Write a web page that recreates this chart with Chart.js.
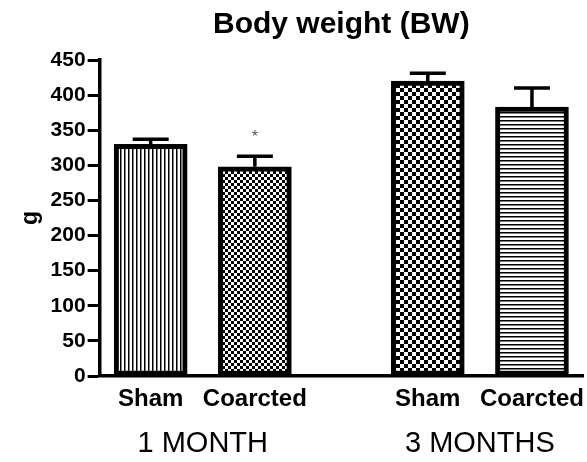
<!DOCTYPE html>
<html>
<head>
<meta charset="utf-8">
<title>Body weight (BW)</title>
<script src="https://cdn.jsdelivr.net/npm/chart.js@4.4.0/dist/chart.umd.min.js"></script>
<style>
  html, body { margin: 0; padding: 0; background: #fff; }
  #wrap { width: 587px; height: 462px; }
</style>
</head>
<body>
<div id="wrap"><canvas id="bw-chart" width="587" height="462"></canvas></div>
<script>
// Body weight (g), mean + SEM per group
const groupNames = ['1 MONTH', '3 MONTHS'];
const barLabels = ['Sham', 'Coarcted', 'Sham', 'Coarcted'];
const barSlots = [1, 2, 3.66, 4.66];   // bar positions on the x axis (two pairs)
const meanWeight = [330, 298, 420, 383];
const semWeight = [7, 15, 11, 27];
const significance = ['', '*', '', ''];
const yMax = 450;
const yStep = 50;

const FONT = "'Liberation Sans', Arial, Helvetica, sans-serif";

// Hatch fills drawn on a tiny tile and repeated
function makePattern(kind) {
  const c = document.createElement('canvas');
  const ctx = c.getContext('2d');
  let size = 4;
  if (kind === 'checkFine') size = 6;
  if (kind === 'checkCoarse') size = 8;
  c.width = size;
  c.height = size;
  ctx.fillStyle = '#fff';
  ctx.fillRect(0, 0, size, size);
  ctx.fillStyle = '#000';
  if (kind === 'vlines') {
    ctx.fillRect(0, 0, 1.5, size);
  } else if (kind === 'hlines') {
    ctx.fillRect(0, 0, size, 1.5);
  } else {
    const h = size / 2;
    ctx.fillRect(0, 0, h, h);
    ctx.fillRect(h, h, h, h);
  }
  return ctx.createPattern(c, 'repeat');
}

const barFills = ['vlines', 'checkFine', 'checkCoarse', 'hlines'].map(makePattern);

// group label positions: middle of each pair of bars
const groupCenters = groupNames.map((g, i) => (barSlots[i * 2] + barSlots[i * 2 + 1]) / 2);

// upper error bars + significance marks
const errorBars = {
  id: 'errorBars',
  afterDatasetsDraw(chart) {
    const meta = chart.getDatasetMeta(0);
    const y = chart.scales.y;
    const ctx = chart.ctx;
    ctx.save();
    ctx.strokeStyle = '#000';
    ctx.lineWidth = 3.5;
    meta.data.forEach((bar, i) => {
      const top = y.getPixelForValue(meanWeight[i]);
      const end = y.getPixelForValue(meanWeight[i] + semWeight[i]);
      ctx.beginPath();
      ctx.moveTo(bar.x, top);
      ctx.lineTo(bar.x, end);
      ctx.moveTo(bar.x - 18, end);
      ctx.lineTo(bar.x + 18, end);
      ctx.stroke();
      if (significance[i]) {
        ctx.fillStyle = '#555';
        ctx.font = '16px ' + FONT;
        ctx.textAlign = 'center';
        ctx.textBaseline = 'middle';
        ctx.fillText(significance[i], bar.x, end - 19);
      }
    });
    ctx.restore();
  }
};

function initChart() {
  const ctx = document.getElementById('bw-chart').getContext('2d');

  new Chart(ctx, {
    type: 'bar',
    data: {
      datasets: [{
        data: meanWeight.map((v, i) => ({ x: barSlots[i], y: v })),
        backgroundColor: barFills,
        borderColor: '#000',
        borderWidth: 5,
        borderSkipped: false,
        barThickness: 73
      }]
    },
    options: {
      responsive: false,
      animation: false,
      devicePixelRatio: 1,
      layout: { padding: { left: 12, right: 4, top: 0, bottom: 0.6 } },
      scales: {
        x: {
          type: 'linear',
          offset: false,
          min: 0.51,
          max: 5.15,
          // tick marks hidden; tickLength only spaces the labels down
          grid: { display: false, drawTicks: true, tickLength: 9.4, offset: false },
          border: { display: true, color: '#000', width: 3.5 },
          afterBuildTicks: (scale) => { scale.ticks = barSlots.map(v => ({ value: v })); },
          ticks: {
            autoSkip: false,
            maxRotation: 0,
            padding: 0,
            color: '#000',
            font: { family: FONT, size: 24, weight: 'bold' },
            callback: (value, index) => barLabels[index]
          }
        },
        x2: {
          type: 'linear',
          position: 'bottom',
          weight: 1,
          offset: false,
          min: 0.51,
          max: 5.15,
          grid: { display: false, drawTicks: true, tickLength: 12.4, offset: false },
          border: { display: false },
          afterBuildTicks: (scale) => { scale.ticks = groupCenters.map(v => ({ value: v })); },
          ticks: {
            autoSkip: false,
            maxRotation: 0,
            padding: 0,
            color: '#000',
            font: { family: FONT, size: 29 },
            callback: (value, index) => groupNames[index]
          }
        },
        y: {
          min: 0,
          max: yMax,
          grid: {
            drawOnChartArea: false,
            tickLength: 12,
            tickWidth: 3,
            tickColor: '#000'
          },
          border: { color: '#000', width: 3.5 },
          ticks: {
            stepSize: yStep,
            padding: 2,
            color: '#000',
            font: { family: FONT, size: 21, weight: 'bold' }
          },
          title: {
            display: true,
            text: 'g',
            color: '#000',
            padding: { top: 5, bottom: 4 },
            font: { family: FONT, size: 23, weight: 'bold' }
          }
        }
      },
      plugins: {
        legend: { display: false },
        tooltip: { enabled: false },
        title: {
          display: true,
          text: 'Body weight (BW)',
          fullSize: false,
          color: '#000',
          padding: { top: 7, bottom: 17 },
          font: { family: FONT, size: 30, weight: 'bold' }
        }
      }
    },
    plugins: [errorBars]
  });
}

document.addEventListener('DOMContentLoaded', initChart);
</script>
</body>
</html>
